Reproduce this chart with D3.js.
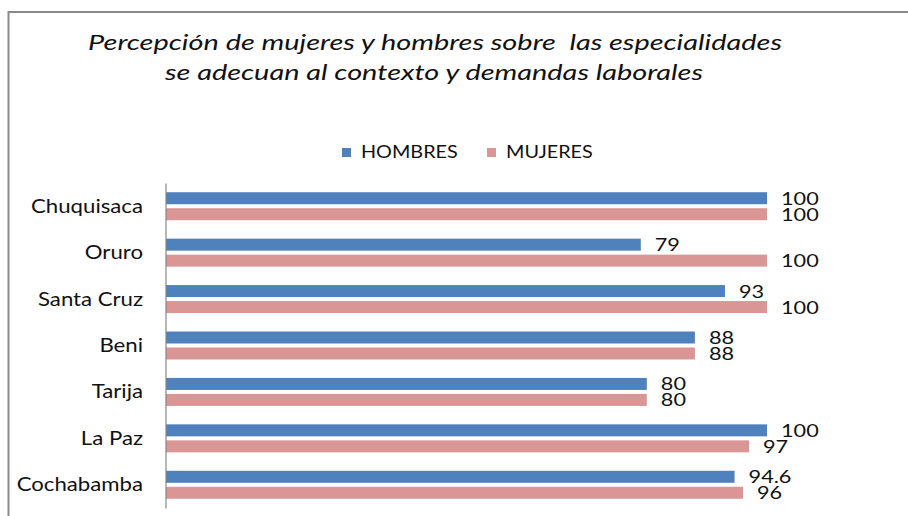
<!DOCTYPE html>
<html>
<head>
<meta charset="utf-8">
<script src="https://cdn.jsdelivr.net/npm/d3@7"></script>
<style>
  html, body { margin: 0; padding: 0; background: #fff; }
  svg { display: block; }
  text { font-family: Lato, "Open Sans", sans-serif; fill: #111; }
</style>
</head>
<body>
<svg id="chart" width="908" height="516"></svg>
<script>
const titleLines = ["Percepción de mujeres y hombres sobre  las especialidades",
                    "se adecuan al contexto y demandas laborales"];
const categories = ["Chuquisaca", "Oruro", "Santa Cruz", "Beni", "Tarija", "La Paz", "Cochabamba"];
const seriesNames = ["HOMBRES", "MUJERES"];
const hombres = [100, 79, 93, 88, 80, 100, 94.6];
const mujeres = [100, 100, 100, 88, 80, 97, 96];
const colors = ["#4F81BD", "#D99694"];

const svg = d3.select("#chart");
const SX = 1.2; // horizontal text stretch seen in the reference

// outer frame
svg.append("rect").attr("x", 8.5).attr("y", 12).attr("width", 1200).attr("height", 1000)
  .attr("fill", "none").attr("stroke", "#8a8a8a").attr("stroke-width", 2);

function stext(x, y, str, opts) {
  const g = svg.append("g").attr("transform", `translate(${x},${y}) scale(${opts.sx || SX},1)`);
  const t = g.append("text").attr("x", 0).attr("y", 0).text(str)
    .attr("font-size", opts.size).attr("text-anchor", opts.anchor || "start");
  if (opts.italic) t.attr("font-style", "italic");
  return t;
}

// title (stretched to the reference line widths)
svg.append("text").attr("x", 88).attr("y", 50).text(titleLines[0])
  .attr("font-size", 21.5).attr("font-style", "italic")
  .attr("textLength", 694).attr("lengthAdjust", "spacingAndGlyphs").style("white-space", "pre");
svg.append("text").attr("x", 165).attr("y", 80).text(titleLines[1])
  .attr("font-size", 21.5).attr("font-style", "italic")
  .attr("textLength", 538).attr("lengthAdjust", "spacingAndGlyphs");

// scales
const x = d3.scaleLinear().domain([0, 100]).range([166, 767]);
const y = d3.scaleBand().domain(categories).range([183, 508]);
const bw = y.bandwidth();
const barH = 12;

// legend
const legendX = [342, 487];
seriesNames.forEach((s, i) => {
  svg.append("rect").attr("x", legendX[i]).attr("y", 148).attr("width", 9).attr("height", 9)
    .attr("fill", colors[i]);
  stext(legendX[i] + 19, 158, s, {size: 16.5});
});

// bars
const series = [hombres, mujeres];
series.forEach((vals, si) => {
  svg.append("g").selectAll("rect").data(categories).join("rect")
    .attr("x", x(0))
    .attr("y", c => y(c) + bw / 2 + (si === 0 ? -14 : 2))
    .attr("width", (c, i) => x(vals[i]) - x(0))
    .attr("height", barH)
    .attr("fill", colors[si]);
  categories.forEach((c, i) => {
    const cy = y(c) + bw / 2 + (si === 0 ? -8 : 8);
    stext(x(vals[i]) + 14, cy + 6.5, String(vals[i]), {size: 17.5, sx: 1.24});
  });
});

// category axis
const axis = d3.axisLeft(y).tickSize(0).tickPadding(0);
const ag = svg.append("g").attr("transform", `translate(165.5,0)`).call(axis);
ag.select(".domain").attr("stroke", "#868686").attr("stroke-width", 1.2);
ag.selectAll(".tick text").remove();
categories.forEach(c => {
  stext(143, y(c) + bw / 2 + 6.5, c, {size: 18.5, anchor: "end"});
});
</script>
</body>
</html>
